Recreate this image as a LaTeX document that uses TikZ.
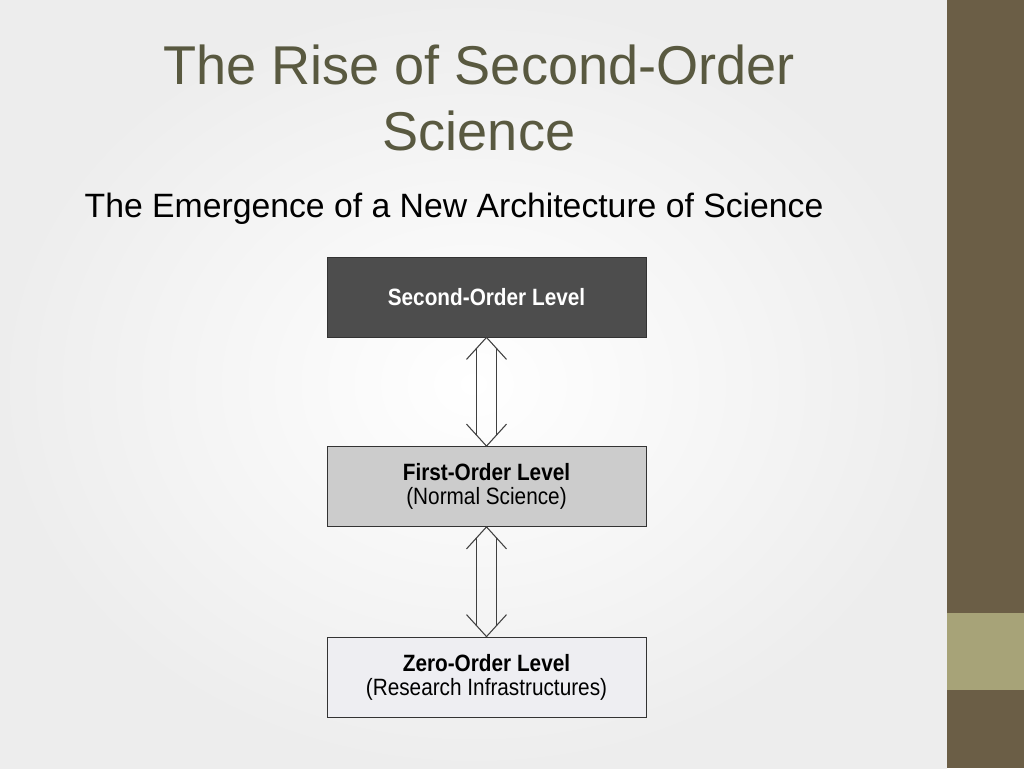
\documentclass[tikz,border=0pt]{standalone}
\usepackage{fontspec}
\setmainfont{Liberation Sans}
\begin{document}
\begin{tikzpicture}[x=0.75pt,y=-0.75pt,
  lvl/.style={draw=black!80,line width=0.6pt,minimum width=319*0.75pt,minimum height=80*0.75pt,align=center,font=\fontsize{17.7}{18}\selectfont},
  dbl/.style={line width=0.8pt,draw=black!75}]
\useasboundingbox (0,0) rectangle (1024,768);
\shade[inner color=white,outer color=black!7] (0,0) rectangle (947,768);
\fill[fill={rgb,255:red,107;green,94;blue,70}] (947,0) rectangle (1024,768);
\fill[fill={rgb,255:red,167;green,163;blue,120}] (947,613) rectangle (1024,690);
\definecolor{titlec}{RGB}{89,89,64}
\node[text=titlec,font=\fontsize{41}{49}\selectfont,align=center] (title) at (479,98) {\scalebox{0.99}[1]{The Rise of Second-Order}\\\scalebox{0.99}[1]{Science}};
\node[anchor=west,font=\fontsize{25.3}{28}\selectfont] (sub) at (80,209) {The Emergence of a New Architecture of Science};
\node[lvl,fill={rgb,255:red,77;green,77;blue,77},text=white] (s) at (486.5,297) {\scalebox{0.88}[1]{\textbf{Second-Order Level}}};
\node[lvl,fill={rgb,255:red,204;green,204;blue,204}] (f) at (486.5,486.5) {\scalebox{0.88}[1]{\textbf{First-Order Level}}\\\scalebox{0.88}[1]{(Normal Science)}};
\node[lvl,fill={rgb,255:red,238;green,238;blue,242}] (z) at (486.5,677) {\scalebox{0.88}[1]{\textbf{Zero-Order Level}}\\\scalebox{0.88}[1]{(Research Infrastructures)}};
\foreach \a/\b in {s/f,f/z}{
  \draw[dbl] ([yshift=-22*0.75pt,xshift=-20*0.75pt]\a.south) -- (\a.south) -- ([yshift=-22*0.75pt,xshift=20*0.75pt]\a.south);
  \draw[dbl] ([yshift=22*0.75pt,xshift=-20*0.75pt]\b.north) -- (\b.north) -- ([yshift=22*0.75pt,xshift=20*0.75pt]\b.north);
  \draw[dbl] ([yshift=-11*0.75pt,xshift=-10*0.75pt]\a.south) -- ([yshift=11*0.75pt,xshift=-10*0.75pt]\b.north);
  \draw[dbl] ([yshift=-11*0.75pt,xshift=10*0.75pt]\a.south) -- ([yshift=11*0.75pt,xshift=10*0.75pt]\b.north);
}
\end{tikzpicture}
\end{document}
